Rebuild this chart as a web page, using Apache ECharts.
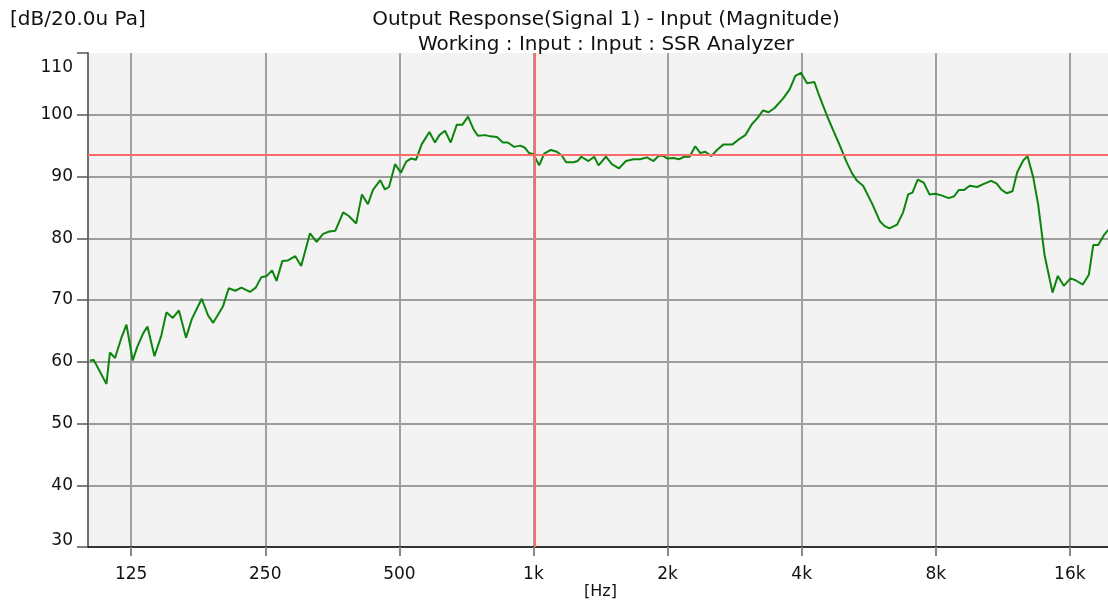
<!DOCTYPE html>
<html>
<head>
<meta charset="utf-8">
<script src="https://cdn.jsdelivr.net/npm/echarts@6/dist/echarts.min.js"></script>
<style>
  html, body { margin: 0; padding: 0; background: #fff; }
  #chart { width: 1108px; height: 600px; }
</style>
</head>
<body>
<div id="chart"></div>
<script>
const freqHz = [
  101, 103, 110, 112, 115, 119, 122, 126, 129, 133, 136, 141, 146, 150, 155, 160, 166, 171, 180, 186,
  191, 201, 207, 214, 221, 231, 238, 245, 252, 259, 265, 273, 281, 292, 301, 315, 326, 337, 348, 359,
  374, 385, 400, 412, 425, 436, 453, 464, 474, 489, 504, 518, 531, 545, 561, 584, 601, 615, 633, 652,
  673, 693, 713, 733, 750, 779, 800, 828, 854, 876, 905, 934, 955, 978, 1000, 1030, 1057, 1094, 1129, 1158,
  1184, 1230, 1256, 1280, 1329, 1369, 1400, 1454, 1500, 1555, 1613, 1677, 1736, 1798, 1860, 1913, 1959, 2000, 2063, 2125,
  2180, 2241, 2308, 2369, 2431, 2507, 2582, 2672, 2799, 2902, 2990, 3095, 3186, 3276, 3372, 3478, 3633, 3759, 3872, 3987,
  4113, 4272, 4384, 4562, 4720, 4869, 5041, 5192, 5328, 5496, 5758, 5988, 6136, 6296, 6552, 6759, 6936, 7092, 7289, 7518,
  7744, 7988, 8270, 8556, 8799, 9011, 9247, 9538, 9911, 10254, 10655, 10951, 11221, 11533, 11897, 12189, 12573, 12856, 13241, 13588,
  14039, 14632, 15037, 15510, 16058, 16478, 17112, 17653, 18058, 18531, 19077, 19546, 20000
];
const levelDb = [
  60.2, 60.3, 56.4, 61.5, 60.6, 64.0, 66.0, 60.2, 62.4, 64.6, 65.7, 60.9, 64.2, 68.0, 67.1, 68.3, 63.9, 66.9, 70.2, 67.5,
  66.3, 69.0, 71.9, 71.5, 72.0, 71.3, 72.0, 73.7, 73.9, 74.8, 73.1, 76.3, 76.4, 77.1, 75.5, 80.8, 79.4, 80.7, 81.1, 81.2,
  84.2, 83.6, 82.4, 87.1, 85.5, 87.8, 89.4, 87.9, 88.3, 92.0, 90.6, 92.4, 92.9, 92.7, 95.2, 97.2, 95.5, 96.7, 97.4, 95.5,
  98.4, 98.4, 99.7, 97.7, 96.6, 96.7, 96.5, 96.4, 95.5, 95.5, 94.8, 95.0, 94.7, 93.8, 93.6, 91.8, 93.7, 94.3, 94.0, 93.4,
  92.3, 92.3, 92.5, 93.2, 92.5, 93.2, 91.8, 93.2, 92.0, 91.3, 92.5, 92.8, 92.8, 93.1, 92.5, 93.4, 93.3, 92.9, 93.0, 92.8,
  93.2, 93.2, 94.9, 93.8, 94.0, 93.3, 94.3, 95.2, 95.2, 96.1, 96.7, 98.5, 99.5, 100.7, 100.4, 101.1, 102.6, 104.1, 106.3, 106.8,
  105.1, 105.3, 103.0, 99.8, 97.3, 95.1, 92.4, 90.5, 89.3, 88.5, 85.6, 82.8, 82.0, 81.6, 82.2, 84.2, 87.1, 87.4, 89.5, 89.0,
  87.1, 87.2, 86.9, 86.5, 86.8, 87.8, 87.8, 88.5, 88.3, 88.8, 89.3, 88.9, 87.9, 87.3, 87.6, 90.7, 92.6, 93.3, 89.9, 85.4,
  77.3, 71.2, 73.9, 72.3, 73.5, 73.2, 72.5, 74.1, 78.9, 78.9, 80.5, 81.4, 82.3
];
const freqTicks = ['125', '250', '500', '1k', '2k', '4k', '8k', '16k'];
const freqMin = 100;
const freqMax = 20000;
const cursorHz = 1007;
const cursorDb = 93.5;

// x is plotted in octaves re 1 kHz so ticks fall on 125 * 2^n
const oct = f => Math.log2(f / 1000);

const chart = echarts.init(document.getElementById('chart'));
const font = 'DejaVu Sans';

chart.setOption({
  animation: false,
  title: [
    {
      text: 'Output Response(Signal 1) - Input (Magnitude)\nWorking : Input : Input : SSR Analyzer',
      left: 601,
      top: 2,
      textAlign: 'center',
      textStyle: { fontFamily: font, fontSize: 20, fontWeight: 'normal', color: '#111', lineHeight: 25 }
    },
    {
      text: '[dB/20.0u Pa]',
      left: 5,
      top: 5,
      textStyle: { fontFamily: font, fontSize: 20, fontWeight: 'normal', color: '#111' }
    }
  ],
  grid: {
    left: 88, top: 53, width: 1025, height: 494,
    outerBoundsMode: 'none', containLabel: false,
    show: true, backgroundColor: '#f3f3f3', borderWidth: 0
  },
  xAxis: {
    type: 'value',
    min: oct(freqMin),
    max: oct(freqMax),
    splitNumber: 8,
    name: '[Hz]',
    nameLocation: 'middle',
    nameGap: 37,
    nameMoveOverlap: false,
    nameTextStyle: { fontFamily: font, fontSize: 16, color: '#111' },
    axisLine: { onZero: false, lineStyle: { color: '#111', width: 1.5 } },
    axisTick: { length: 9, lineStyle: { color: '#888', width: 2 } },
    axisLabel: {
      showMinLabel: false, showMaxLabel: false, margin: 19,
      fontFamily: font, fontSize: 17, color: '#111',
      formatter: v => Number.isInteger(v) ? (freqTicks[v + 3] || '') : ''
    },
    splitLine: { show: true, showMinLine: false, showMaxLine: false, lineStyle: { color: '#a0a0a0', width: 2 } }
  },
  yAxis: {
    type: 'value',
    min: 30, max: 110, interval: 10,
    axisLine: { show: true, onZero: false, lineStyle: { color: '#6e6e6e', width: 2 } },
    axisTick: { show: true, length: 11, lineStyle: { color: '#555', width: 1.5 } },
    axisLabel: {
      margin: 15, fontFamily: font, fontSize: 17, color: '#111',
      formatter: v => v === 110 ? '{top|110}' : (v === 30 ? '{bot|30}' : String(v)),
      rich: {
        top: { fontFamily: font, fontSize: 17, color: '#111', padding: [30, 0, 0, 0] },
        bot: { fontFamily: font, fontSize: 17, color: '#111', padding: [0, 0, 12, 0] }
      }
    },
    splitLine: { show: true, showMaxLine: false, lineStyle: { color: '#808080', width: 1.5 } }
  },
  series: [{
    type: 'line',
    data: freqHz.map((f, i) => [oct(f), levelDb[i]]),
    showSymbol: false,
    lineStyle: { color: '#0d850d', width: 2 },
    itemStyle: { color: '#0d850d' },
    markLine: {
      silent: true,
      symbol: 'none',
      label: { show: false },
      lineStyle: { color: '#ff6b6b', width: 2, type: 'solid' },
      data: [{ xAxis: oct(cursorHz) }, { yAxis: cursorDb }]
    }
  }]
});
</script>
</body>
</html>
